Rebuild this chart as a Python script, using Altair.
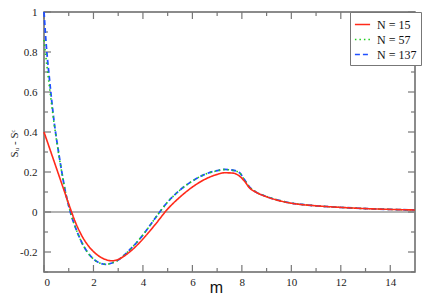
import altair as alt
import pandas as pd

m_vals = [0, 0.1, 0.2, 0.3, 0.4, 0.5, 0.6, 0.7, 0.85, 1.0, 1.1, 1.25, 1.5, 1.75, 2.0, 2.25, 2.5, 2.75,
          3.0, 3.5, 4.0, 4.5, 5.0, 5.5, 6.0, 6.5, 7.0, 7.3, 7.6, 7.9, 8.1, 8.3, 8.6, 9.0, 9.5, 10, 11, 12, 13, 14, 15]

n15 = [0.40, 0.364, 0.328, 0.292, 0.256, 0.22, 0.184, 0.148, 0.094, 0.04, 0.005, -0.045, -0.112, -0.162, -0.198,
       -0.223, -0.238, -0.244, -0.237, -0.196, -0.135, -0.062, 0.015, 0.075, 0.125, 0.163, 0.188, 0.196, 0.195,
       0.18, 0.155, 0.122, 0.097, 0.076, 0.057, 0.044, 0.031, 0.023, 0.017, 0.013, 0.01]

n57 = [0.86, 0.75, 0.645, 0.545, 0.45, 0.365, 0.285, 0.212, 0.11, 0.03, -0.015, -0.07, -0.145, -0.2, -0.235,
       -0.255, -0.261, -0.255, -0.24, -0.185, -0.115, -0.03, 0.05, 0.11, 0.155, 0.188, 0.206, 0.212, 0.209,
       0.196, 0.161, 0.126, 0.098, 0.077, 0.058, 0.045, 0.031, 0.023, 0.017, 0.013, 0.01]

n137 = [1.0, 0.82, 0.69, 0.57, 0.46, 0.37, 0.29, 0.215, 0.11, 0.03, -0.015, -0.07, -0.145, -0.2, -0.235,
        -0.255, -0.262, -0.255, -0.24, -0.185, -0.115, -0.03, 0.05, 0.11, 0.155, 0.188, 0.207, 0.213, 0.21,
        0.197, 0.162, 0.126, 0.098, 0.077, 0.058, 0.045, 0.031, 0.023, 0.017, 0.013, 0.01]

names = ["N = 15", "N = 57", "N = 137"]
colors = ["#ff2a1a", "#22cc22", "#2050ff"]
dashes = [[1, 0], [1.5, 3], [5, 3]]

x_major = [0, 2, 4, 6, 8, 10, 12, 14]
x_minor = [1, 3, 5, 7, 9, 11, 13]
y_major = [-0.2, 0, 0.2, 0.4, 0.6, 0.8, 1.0]
y_minor = [-0.3, -0.1, 0.1, 0.3, 0.5, 0.7, 0.9]

W, H = 371, 260
SERIF = "'Liberation Serif', 'Times New Roman', Times, serif"

rows = []
for name, vals in zip(names, [n15, n57, n137]):
    for mv, v in zip(m_vals, vals):
        rows.append({"m": mv, "v": v, "N": name})
df = pd.DataFrame(rows)

xs = alt.Scale(domain=[0, 15], nice=False, zero=False)
ys = alt.Scale(domain=[-0.3, 1], nice=False, zero=False)

legend = alt.Legend(title=None, orient="none", legendX=306, legendY=0, strokeColor="#777",
                    fillColor="white", padding=4, symbolType="stroke", symbolStrokeWidth=1.6,
                    symbolSize=230, labelFont=SERIF, labelFontSize=12, labelColor="#111",
                    rowPadding=0, labelOffset=6)

color = alt.Color("N:N", scale=alt.Scale(domain=names, range=colors), legend=legend)
sdash = alt.StrokeDash("N:N", scale=alt.Scale(domain=names, range=dashes), legend=legend)

x_enc = alt.X("m:Q", scale=xs, axis=alt.Axis(values=x_major, tickSize=0, domain=False, grid=False,
                                               labelFont=SERIF, labelFontSize=11,
                                               labelColor="#222", labelPadding=4,
                                               title="m", titleFont="Liberation Sans", titleFontSize=16,
                                               titleFontWeight="normal", titleColor="#111",
                                               titleX=172, titleY=20, titleBaseline="alphabetic"))
y_enc = alt.Y("v:Q", scale=ys, axis=alt.Axis(values=y_major, tickSize=0, domain=False, grid=False,
                                               labelFont=SERIF, labelFontSize=11,
                                               labelColor="#222", labelPadding=7,
                                               labelExpr="(datum.value < 0 ? '-' : '') + format(abs(datum.value), '~g')",
                                               title="S\u1d64 - S\u1d9c", titleFont=SERIF,
                                               titleFontSize=11, titleFontWeight="normal", titleColor="#222",
                                               titleAngle=270, titleX=-30, titleY=131,
                                               titleAlign="center", titleBaseline="middle"))

zero = alt.Chart(pd.DataFrame({"v": [0]})).mark_rule(color="#999", strokeWidth=1.5).encode(
    y=alt.Y("v:Q", scale=ys), x=alt.value(0), x2=alt.value(W))

def xticks(vals, length):
    d = pd.DataFrame({"m": vals})
    b = alt.Chart(d).mark_rule(color="#777", strokeWidth=1.2).encode(
        x=alt.X("m:Q", scale=xs), y=alt.value(H), y2=alt.value(H - length))
    t = alt.Chart(d).mark_rule(color="#777", strokeWidth=1.2).encode(
        x=alt.X("m:Q", scale=xs), y=alt.value(0), y2=alt.value(length))
    return b + t

def yticks(vals, length):
    d = pd.DataFrame({"v": vals})
    l = alt.Chart(d).mark_rule(color="#777", strokeWidth=1.2).encode(
        y=alt.Y("v:Q", scale=ys), x=alt.value(0), x2=alt.value(length))
    r = alt.Chart(d).mark_rule(color="#777", strokeWidth=1.2).encode(
        y=alt.Y("v:Q", scale=ys), x=alt.value(W), x2=alt.value(W - length))
    return l + r

base = alt.Chart(df)
lines = []
for name, w in [("N = 137", 1.8), ("N = 57", 1.6), ("N = 15", 1.6)]:
    lines.append(base.transform_filter(alt.datum.N == name).mark_line(
        interpolate="monotone", strokeWidth=w).encode(x=x_enc, y=y_enc, color=color, strokeDash=sdash))

chart = alt.layer(
    zero, xticks(x_major, 7), xticks(x_minor, 4), yticks(y_major, 7), yticks(y_minor, 4), *lines
).properties(
    width=W, height=H,
    autosize=alt.AutoSizeParams(type="none"),
    padding={"left": 36, "top": 4, "right": 13, "bottom": 24},
).configure_view(stroke="#666", strokeWidth=1.5)

chart.save("out.html", embed_options={"renderer": "svg", "actions": False})
